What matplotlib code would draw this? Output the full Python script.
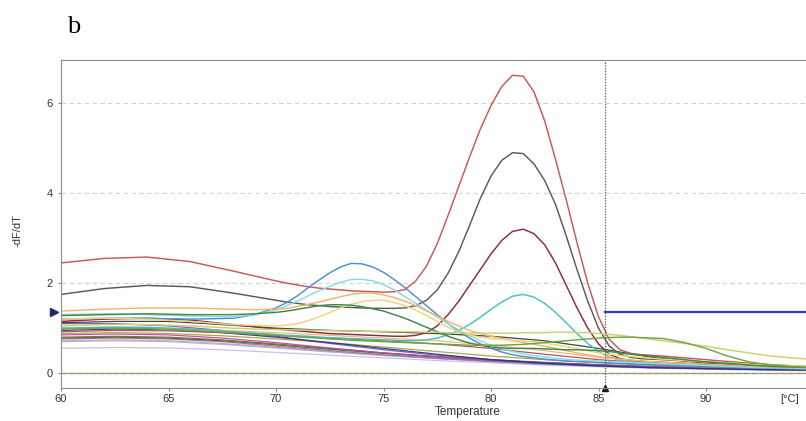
import matplotlib
matplotlib.use("Agg")
import matplotlib.pyplot as plt
import matplotlib.transforms as mtransforms

plt.rcParams["font.family"] = ["Liberation Sans", "DejaVu Sans"]

# temperature grid for the curves with melt peaks
temps = [60, 62, 64, 66, 68, 69,
         70, 70.5, 71, 71.5, 72, 72.5, 73, 73.5, 74, 74.5, 75, 75.5, 76, 76.5,
         77, 77.5, 78, 78.5, 79, 79.5, 80, 80.5, 81, 81.5, 82, 82.5, 83, 83.5,
         84, 84.5, 85, 85.5, 86, 86.5,
         87, 88, 89, 90, 91, 92, 93, 95]

red_peak = [2.45, 2.55, 2.58, 2.48, 2.27, 2.16,
            2.05, 2.00, 1.96, 1.92, 1.89, 1.87, 1.85, 1.83, 1.82, 1.81, 1.80, 1.81, 1.86, 2.05,
            2.38, 2.88, 3.50, 4.15, 4.80, 5.42, 5.95, 6.37, 6.62, 6.60, 6.25, 5.60, 4.75, 3.85,
            2.90, 2.00, 1.25, 0.75, 0.52, 0.44,
            0.41, 0.38, 0.34, 0.30, 0.26, 0.22, 0.19, 0.14]
gray_peak = [1.75, 1.88, 1.95, 1.92, 1.78, 1.70,
             1.62, 1.58, 1.55, 1.52, 1.50, 1.48, 1.47, 1.46, 1.45, 1.44, 1.44, 1.44, 1.45, 1.50,
             1.62, 1.85, 2.22, 2.70, 3.28, 3.88, 4.38, 4.73, 4.90, 4.88, 4.65, 4.28, 3.75, 3.05,
             2.30, 1.60, 1.00, 0.60, 0.42, 0.35,
             0.32, 0.30, 0.27, 0.25, 0.22, 0.20, 0.17, 0.13]
maroon_peak = [1.15, 1.20, 1.22, 1.18, 1.08, 1.03,
               0.98, 0.96, 0.94, 0.92, 0.90, 0.88, 0.87, 0.86, 0.85, 0.84, 0.83, 0.82, 0.82, 0.84,
               0.90, 1.05, 1.30, 1.60, 1.95, 2.30, 2.65, 2.95, 3.15, 3.20, 3.10, 2.85, 2.45, 1.95,
               1.45, 1.00, 0.65, 0.42, 0.32, 0.28,
               0.26, 0.24, 0.22, 0.20, 0.18, 0.16, 0.14, 0.12]
teal_peak = [1.00, 1.02, 1.02, 0.98, 0.92, 0.89,
             0.86, 0.84, 0.83, 0.82, 0.80, 0.79, 0.78, 0.77, 0.76, 0.75, 0.74, 0.73, 0.72, 0.72,
             0.74, 0.78, 0.85, 0.95, 1.08, 1.24, 1.42, 1.58, 1.71, 1.75, 1.69, 1.55, 1.35, 1.12,
             0.88, 0.66, 0.48, 0.36, 0.29, 0.25,
             0.23, 0.21, 0.19, 0.17, 0.15, 0.14, 0.12, 0.10]
blue_peak = [1.20, 1.22, 1.22, 1.20, 1.22, 1.30,
             1.45, 1.57, 1.72, 1.90, 2.07, 2.23, 2.36, 2.44, 2.43, 2.36, 2.24, 2.08, 1.90, 1.70,
             1.50, 1.30, 1.10, 0.93, 0.78, 0.65, 0.55, 0.47, 0.41, 0.37, 0.34, 0.31, 0.29, 0.27,
             0.26, 0.25, 0.24, 0.23, 0.22, 0.21,
             0.20, 0.18, 0.16, 0.14, 0.13, 0.12, 0.11, 0.09]
cyan_peak = [1.30, 1.32, 1.30, 1.27, 1.25, 1.30,
             1.40, 1.50, 1.60, 1.72, 1.83, 1.93, 2.02, 2.08, 2.09, 2.05, 1.97, 1.85, 1.70, 1.55,
             1.40, 1.25, 1.10, 0.96, 0.83, 0.72, 0.62, 0.54, 0.48, 0.43, 0.39, 0.36, 0.33, 0.31,
             0.29, 0.28, 0.27, 0.26, 0.25, 0.24,
             0.23, 0.21, 0.19, 0.17, 0.15, 0.13, 0.12, 0.10]
orange_peak = [1.38, 1.42, 1.45, 1.45, 1.42, 1.41,
               1.42, 1.44, 1.48, 1.53, 1.58, 1.64, 1.70, 1.75, 1.78, 1.78, 1.74, 1.68, 1.60, 1.50,
               1.38, 1.27, 1.15, 1.05, 0.95, 0.88, 0.82, 0.77, 0.72, 0.68, 0.64, 0.60, 0.55, 0.50,
               0.45, 0.41, 0.37, 0.34, 0.31, 0.29,
               0.27, 0.24, 0.22, 0.20, 0.18, 0.16, 0.14, 0.12]
yellow_peak = [1.20, 1.22, 1.20, 1.15, 1.08, 1.06,
               1.05, 1.07, 1.10, 1.17, 1.25, 1.35, 1.45, 1.53, 1.59, 1.62, 1.62, 1.57, 1.50, 1.40,
               1.28, 1.15, 1.02, 0.92, 0.85, 0.80, 0.77, 0.75, 0.73, 0.71, 0.70, 0.67, 0.63, 0.59,
               0.55, 0.50, 0.45, 0.42, 0.39, 0.37,
               0.35, 0.31, 0.28, 0.25, 0.23, 0.20, 0.18, 0.15]
green_peak = [1.28, 1.30, 1.32, 1.30, 1.30, 1.32,
              1.35, 1.38, 1.42, 1.46, 1.50, 1.52, 1.52, 1.51, 1.48, 1.43, 1.38, 1.30, 1.22, 1.12,
              1.02, 0.92, 0.82, 0.74, 0.67, 0.62, 0.58, 0.56, 0.55, 0.55, 0.55, 0.54, 0.53, 0.52,
              0.52, 0.51, 0.50, 0.48, 0.45, 0.42,
              0.40, 0.35, 0.30, 0.25, 0.22, 0.18, 0.15, 0.12]
khaki_late = [1.05, 1.08, 1.08, 1.05, 1.00, 0.98,
              0.97, 0.965, 0.96, 0.955, 0.95, 0.945, 0.94, 0.935, 0.93, 0.93, 0.93, 0.925, 0.92, 0.92,
              0.91, 0.91, 0.90, 0.90, 0.89, 0.89, 0.89, 0.89, 0.89, 0.90, 0.90, 0.90, 0.91, 0.91,
              0.90, 0.90, 0.88, 0.86, 0.84, 0.81,
              0.78, 0.72, 0.66, 0.60, 0.52, 0.45, 0.38, 0.30]
olive_late = [0.98, 1.00, 0.99, 0.95, 0.90, 0.87,
              0.84, 0.82, 0.81, 0.79, 0.78, 0.76, 0.75, 0.73, 0.72, 0.71, 0.70, 0.69, 0.68, 0.67,
              0.66, 0.65, 0.64, 0.63, 0.62, 0.62, 0.62, 0.62, 0.63, 0.64, 0.66, 0.68, 0.70, 0.72,
              0.74, 0.76, 0.78, 0.79, 0.80, 0.80,
              0.79, 0.77, 0.68, 0.55, 0.38, 0.25, 0.18, 0.12]

peak_series = [
    (red_peak, "#c9575a"), (gray_peak, "#5a5a5a"), (maroon_peak, "#8e2a3a"),
    (teal_peak, "#45c1c0"), (blue_peak, "#4f8fd0"), (cyan_peak, "#8cd8ec"),
    (orange_peak, "#f2b56a"), (yellow_peak, "#ecd57a"), (green_peak, "#3d8b45"),
    (khaki_late, "#cfcf70"), (olive_late, "#6fa640"),
]

# coarse grid for the background bundle
bg_temps = [60, 62.5, 65, 67.5, 70, 72.5, 75, 77.5, 80, 82.5, 85, 87.5, 90, 92.5, 95]
bg_black = [1.12, 1.15, 1.15, 1.08, 1.00, 0.95, 0.92, 0.88, 0.82, 0.72, 0.55, 0.35, 0.22, 0.15, 0.10]
bg_navy = [0.95, 0.98, 0.97, 0.90, 0.80, 0.68, 0.55, 0.42, 0.30, 0.22, 0.16, 0.12, 0.10, 0.08, 0.07]
bg_purple = [1.10, 1.10, 1.05, 0.95, 0.82, 0.66, 0.52, 0.40, 0.30, 0.23, 0.18, 0.14, 0.11, 0.09, 0.07]
bg_magenta = [0.85, 0.87, 0.85, 0.78, 0.68, 0.56, 0.45, 0.36, 0.28, 0.22, 0.17, 0.13, 0.10, 0.08, 0.06]
bg_brown = [0.80, 0.82, 0.80, 0.74, 0.65, 0.55, 0.45, 0.37, 0.30, 0.24, 0.19, 0.15, 0.12, 0.10, 0.08]
bg_dkgreen = [0.78, 0.80, 0.78, 0.72, 0.63, 0.53, 0.44, 0.36, 0.29, 0.23, 0.18, 0.14, 0.11, 0.09, 0.07]
bg_gray = [0.76, 0.78, 0.76, 0.70, 0.60, 0.50, 0.41, 0.33, 0.26, 0.20, 0.16, 0.12, 0.10, 0.08, 0.06]
bg_pink = [0.72, 0.74, 0.72, 0.66, 0.57, 0.48, 0.40, 0.33, 0.27, 0.21, 0.16, 0.13, 0.10, 0.08, 0.06]
bg_olive = [0.88, 0.90, 0.88, 0.83, 0.76, 0.68, 0.58, 0.48, 0.38, 0.30, 0.23, 0.17, 0.13, 0.10, 0.08]
bg_ltblue = [0.70, 0.72, 0.70, 0.64, 0.56, 0.47, 0.39, 0.32, 0.26, 0.20, 0.15, 0.12, 0.09, 0.07, 0.06]
bg_lavender = [0.55, 0.57, 0.56, 0.52, 0.46, 0.40, 0.34, 0.28, 0.23, 0.18, 0.14, 0.11, 0.09, 0.07, 0.05]
bg_peach = [1.00, 1.02, 1.00, 0.95, 0.90, 0.84, 0.78, 0.72, 0.62, 0.50, 0.35, 0.25, 0.18, 0.13, 0.10]
bg_red = [0.92, 0.95, 0.94, 0.90, 0.84, 0.78, 0.72, 0.65, 0.55, 0.42, 0.30, 0.22, 0.16, 0.12, 0.08]
bg_zero = [0.0] * 15

bg_series = [
    (bg_lavender, "#c8b8e8"), (bg_ltblue, "#9ab8e0"), (bg_pink, "#e090c0"),
    (bg_gray, "#808080"), (bg_dkgreen, "#2f6f3a"), (bg_brown, "#8a5a3a"),
    (bg_magenta, "#c040b0"), (bg_olive, "#a0a040"), (bg_purple, "#7a4ab0"),
    (bg_navy, "#20308a"), (bg_red, "#b04040"), (bg_peach, "#e8b080"),
    (bg_black, "#303030"), (bg_zero, "#9a9a60"),
]

cursor_temp = 85.3
threshold = 1.37

fig = plt.figure(figsize=(8.06, 4.21), dpi=100)
ax = fig.add_axes([61 / 806, 1 - 388 / 421, 1 - 61 / 806, (388 - 60) / 421])

for yvals in (2, 4, 6):
    ax.axhline(yvals, color="#d0d0d0", lw=0.8, ls=(0, (4, 3)), zorder=0)
ax.axhline(0, color="#9a9a9a", lw=0.9, ls=(0, (4, 2)), zorder=0)

for values, color in bg_series:
    ax.plot(bg_temps, values, color=color, lw=0.9, alpha=0.9)
for values, color in peak_series:
    ax.plot(temps, values, color=color, lw=1.05)

ax.axvline(cursor_temp, color="#555555", lw=0.9, ls=(0, (1, 1.2)))
ax.plot([cursor_temp, 95], [threshold, threshold], color="#3838c0", lw=1.6)

blend = mtransforms.blended_transform_factory(ax.transAxes, ax.transData)
ax.plot([-0.009], [threshold], marker=">", color="#1c2a5a", ms=6,
        transform=blend, clip_on=False)
ax.plot([cursor_temp], [-0.33], marker="^", color="#1a1a1a", ms=5, clip_on=False)

ax.set_xlim(60, 94.65)
ax.set_ylim(-0.33, 6.96)
ax.set_xticks([60, 65, 70, 75, 80, 85, 90])
ax.set_yticks([0, 2, 4, 6])
ax.tick_params(labelsize=8, colors="#333333", length=2.5, color="#888888")
ax.tick_params(axis="x", pad=1.5)
for side in ("left", "bottom", "top"):
    ax.spines[side].set_color("#8c8c8c")
ax.spines["right"].set_visible(False)

ax.set_ylabel("-dF/dT", fontsize=8, color="#333333")
ax.yaxis.set_label_coords(-0.052, 0.48)
ax.set_xlabel("Temperature", fontsize=8.5, color="#333333")
ax.xaxis.set_label_coords(0.546, -0.055)
ax.text(0.978, -0.018, "[°C]", transform=ax.transAxes, fontsize=8,
        color="#333333", ha="center", va="top")

fig.text(67 / 806, 1 - 27 / 421, "b", family=["Liberation Serif", "DejaVu Serif"],
         fontsize=19, ha="left", va="center")

fig.savefig("out.png", dpi=100)
